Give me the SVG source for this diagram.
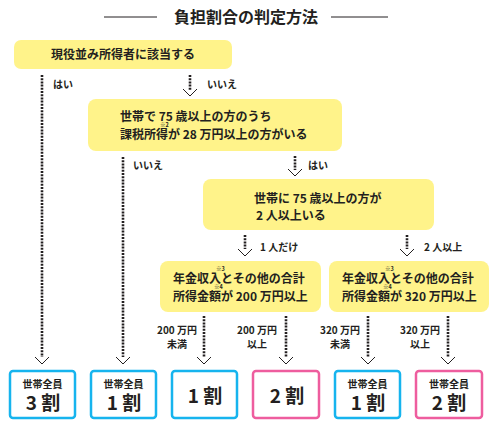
<svg xmlns="http://www.w3.org/2000/svg" width="500" height="430" viewBox="0 0 500 430">
<style>
text{font-family:"Noto Sans CJK JP","Noto Sans",sans-serif;font-weight:700;fill:#231f20}
.t12{font-size:12px}
.t10{font-size:10px}
.sup{font-size:5.5px;font-weight:700}
.ybox{fill:#fff38a}
.dot{stroke:#231f20;stroke-width:2.6;stroke-dasharray:2 1.2;fill:none}
.chev{stroke:#231f20;stroke-width:1;fill:none}
.blue{fill:#fff;stroke:#16b4ee;stroke-width:2.5}
.pink{fill:#fff;stroke:#ee5d9e;stroke-width:2.5}
.big{font-size:19px}
.mid{text-anchor:middle}
</style>
<rect width="500" height="430" fill="#fff"/>
<g id="title">
<line x1="104" y1="17" x2="157" y2="17" stroke="#231f20" stroke-width="1"/>
<line x1="331" y1="17" x2="388" y2="17" stroke="#231f20" stroke-width="1"/>
<text x="246" y="23" class="mid" style="font-size:16px">負担割合の判定方法</text>
</g>
<g id="connectors">
<line class="dot" x1="42" y1="75" x2="42" y2="357"/>
<line class="dot" x1="190" y1="75" x2="190" y2="90"/>
<polyline class="chev" points="183,89 190,96 197,89"/>
<line class="dot" x1="123" y1="157" x2="123" y2="357"/>
<line class="dot" x1="295" y1="156" x2="295" y2="170"/>
<polyline class="chev" points="288,169 295,176 302,169"/>
<line class="dot" x1="245" y1="235" x2="245" y2="249"/>
<polyline class="chev" points="238,249 245,256 252,249"/>
<line class="dot" x1="407" y1="235" x2="407" y2="249"/>
<polyline class="chev" points="400,249 407,256 414,249"/>
<line class="dot" x1="204" y1="316" x2="204" y2="357"/>
<line class="dot" x1="286" y1="316" x2="286" y2="357"/>
<line class="dot" x1="368" y1="316" x2="368" y2="357"/>
<line class="dot" x1="448" y1="316" x2="448" y2="357"/>
<polyline class="chev" points="35,357 42,364 49,357"/>
<polyline class="chev" points="116,357 123,364 130,357"/>
<polyline class="chev" points="197,357 204,364 211,357"/>
<polyline class="chev" points="279,357 286,364 293,357"/>
<polyline class="chev" points="361,357 368,364 375,357"/>
<polyline class="chev" points="441,357 448,364 455,357"/>
<text x="53" y="88" class="t10">はい</text>
<text x="207" y="88" class="t10">いいえ</text>
<text x="133" y="169" class="t10">いいえ</text>
<text x="308" y="169" class="t10">はい</text>
<text x="260" y="251" class="t10">1 人だけ</text>
<text x="424" y="251" class="t10">2 人以上</text>
<text x="177" y="334" class="t10 mid">200 万円</text>
<text x="177" y="348" class="t10 mid">未満</text>
<text x="257" y="334" class="t10 mid">200 万円</text>
<text x="257" y="348" class="t10 mid">以上</text>
<text x="340" y="334" class="t10 mid">320 万円</text>
<text x="340" y="348" class="t10 mid">未満</text>
<text x="420" y="334" class="t10 mid">320 万円</text>
<text x="420" y="348" class="t10 mid">以上</text>
</g>
<g id="q1">
<rect class="ybox" x="14" y="40" width="218" height="29" rx="7"/>
<text x="123" y="59" class="t12 mid">現役並み所得者に該当する</text>
</g>
<g id="q2">
<rect class="ybox" x="88" y="99" width="254" height="52" rx="8"/>
<text x="120" y="121" class="t12">世帯で 75 歳以上の方のうち</text>
<text x="160" y="127" class="sup">※2</text>
<text x="120" y="139" class="t12">課税所得が 28 万円以上の方がいる</text>
</g>
<g id="q3">
<rect class="ybox" x="203" y="179" width="231" height="51" rx="8"/>
<text x="254" y="203" class="t12">世帯に 75 歳以上の方が</text>
<text x="256" y="220" class="t12">2 人以上いる</text>
</g>
<g id="q4">
<rect class="ybox" x="160" y="261" width="161" height="51" rx="8"/>
<text x="173" y="283" class="t12">年金収入とその他の合計</text>
<text x="216" y="271" class="sup">※3</text>
<text x="173" y="301" class="t12">所得金額が 200 万円以上</text>
<text x="214" y="289" class="sup">※4</text>
</g>
<g id="q5">
<rect class="ybox" x="329" y="261" width="160" height="51" rx="8"/>
<text x="342" y="283" class="t12">年金収入とその他の合計</text>
<text x="385" y="271" class="sup">※3</text>
<text x="342" y="301" class="t12">所得金額が 320 万円以上</text>
<text x="383" y="289" class="sup">※4</text>
</g>
<g id="r1">
<rect class="blue" x="10" y="371" width="65" height="47" rx="3"/>
<text x="42.5" y="388" class="t10 mid">世帯全員</text>
<text x="43" y="410" class="big mid">3 割</text>
</g>
<g id="r2">
<rect class="blue" x="91" y="371" width="65" height="47" rx="3"/>
<text x="123.5" y="388" class="t10 mid">世帯全員</text>
<text x="124" y="410" class="big mid">1 割</text>
</g>
<g id="r3">
<rect class="blue" x="172" y="371" width="65" height="47" rx="3"/>
<text x="205" y="403" class="big mid">1 割</text>
</g>
<g id="r4">
<rect class="pink" x="253" y="371" width="66" height="47" rx="3"/>
<text x="287" y="403" class="big mid">2 割</text>
</g>
<g id="r5">
<rect class="blue" x="335" y="371" width="65" height="47" rx="3"/>
<text x="367.5" y="388" class="t10 mid">世帯全員</text>
<text x="368" y="410" class="big mid">1 割</text>
</g>
<g id="r6">
<rect class="pink" x="416" y="371" width="66" height="47" rx="3"/>
<text x="449" y="388" class="t10 mid">世帯全員</text>
<text x="449" y="410" class="big mid">2 割</text>
</g>
</svg>
